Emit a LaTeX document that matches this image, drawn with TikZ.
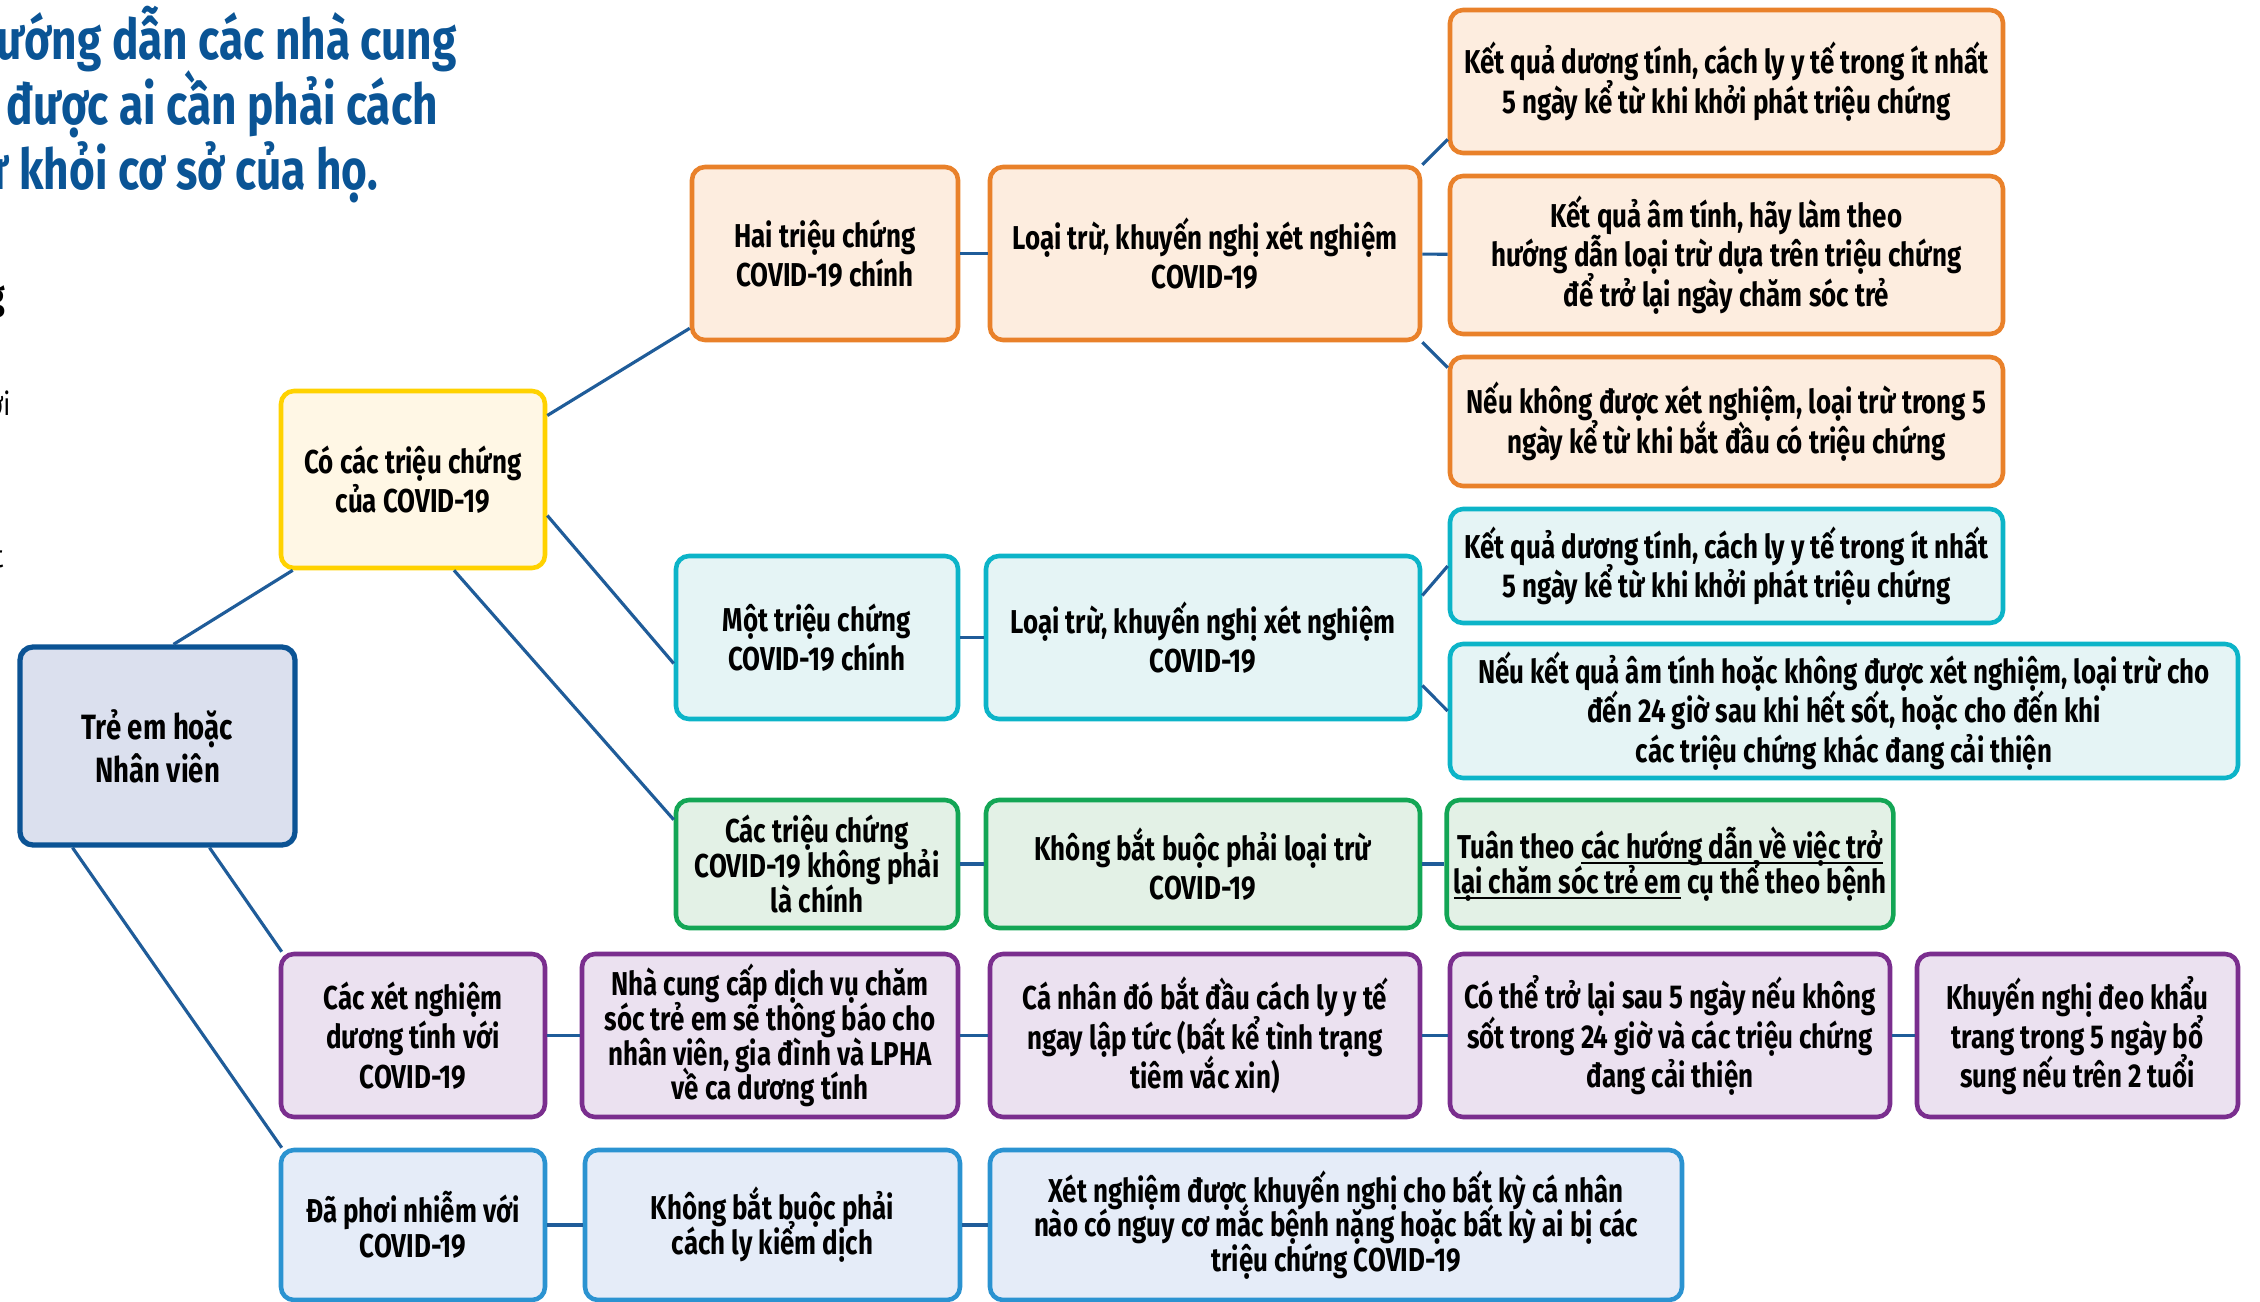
\documentclass[tikz,border=0pt]{standalone}
\usepackage{fontspec}
\newfontfamily\condfont{Fira Sans}[FakeStretch=0.785]
\usetikzlibrary{positioning}

\definecolor{linkblue}{HTML}{1F5C99}
\definecolor{titleblue}{HTML}{0A5495}
\definecolor{rootline}{HTML}{0B5394}\definecolor{rootfill}{HTML}{DBE0EE}
\definecolor{yelline}{HTML}{FFD200}\definecolor{yelfill}{HTML}{FFF7E5}
\definecolor{orline}{HTML}{E9812A}\definecolor{orfill}{HTML}{FDEDDF}
\definecolor{cyline}{HTML}{0CB4C8}\definecolor{cyfill}{HTML}{E5F4F5}
\definecolor{grline}{HTML}{13A655}\definecolor{grfill}{HTML}{E3F1E6}
\definecolor{puline}{HTML}{7A2E8E}\definecolor{pufill}{HTML}{EBE1F0}
\definecolor{blline}{HTML}{2B93D1}\definecolor{blfill}{HTML}{E5ECF8}

% underline close to the baseline
\newcommand{\ulink}[1]{\setbox0\hbox{#1}\leavevmode\rlap{\rule[-1.5pt]{\wd0}{0.55pt}}\box0\relax}
\newcommand{\boxfont}[2]{\condfont\bfseries\fontsize{#1}{#2}\selectfont\lineskiplimit=-20pt}

\begin{document}
\begin{tikzpicture}[
		link/.style={draw=linkblue, line width=0.9pt},
		box/.style={line width=1.3pt, rounded corners=1.3mm, align=center, inner sep=2pt,
			font=\boxfont{9.4}{11.2}},
		tight/.style={font=\boxfont{9.4}{9.9}},
		rootbox/.style={box, draw=rootline, fill=rootfill, line width=1.5pt, font=\boxfont{10}{12.3}},
		yelbox/.style={box, draw=yelline, fill=yelfill},
		orbox/.style={box, draw=orline, fill=orfill},
		cybox/.style={box, draw=cyline, fill=cyfill},
		grbox/.style={box, draw=grline, fill=grfill},
		pubox/.style={box, draw=puline, fill=pufill},
		blbox/.style={box, draw=blline, fill=blfill},
		headline/.style={anchor=base west, inner sep=0, text=titleblue, font=\boxfont{16}{18}},
		sz/.style 2 args={minimum width=#1cm, minimum height=#2cm}]
		
		\useasboundingbox (0,0) rectangle (22.6,-13.02);
		\clip (0,0) rectangle (22.6,-13.02);
		
		% heading, cut at the left edge
		\node[headline] (head1) at (-0.04,-0.6) {ướng dẫn các nhà cung};
		\node[headline] (head2) at (0.06,-1.25) {được ai cần phải cách};
		\node[headline] (head3) at (-0.2,-1.9) {ư khỏi cơ sở của họ.};
		
		\node[anchor=base east, inner sep=0, font=\condfont\bfseries\fontsize{11}{13}\selectfont] (frag1) at (0.06,-3.1) {g};
		\node[anchor=base east, inner sep=0, font=\condfont\fontsize{9}{11}\selectfont] (frag2) at (0.11,-4.15) {ơi};
		\node[anchor=base east, inner sep=0, font=\condfont\fontsize{9}{11}\selectfont] (frag3) at (0.04,-5.67) {t};
		
		\node[rootbox, sz={2.75}{1.98}] at (1.575,-7.46) (tre) {Trẻ em hoặc\\Nhân viên};
		\node[yelbox, sz={2.64}{1.77}] at (4.13,-4.795) (coca) {Có các triệu chứng\\của COVID-19};
		
		\node[orbox, sz={2.66}{1.73}] at (8.25,-2.535) (hai) {Hai triệu chứng\\COVID-19 chính};
		\node[orbox, sz={4.30}{1.73}] at (12.05,-2.535) (loaiA) {Loại trừ, khuyến nghị xét nghiệm\\COVID-19};
		\node[orbox, sz={5.53}{1.43}] at (17.265,-0.815) (duongA) {Kết quả dương tính, cách ly y tế trong ít nhất\\5 ngày kể từ khi khởi phát triệu chứng};
		\node[orbox, sz={5.53}{1.58}] at (17.265,-2.55) (amA) {Kết quả âm tính, hãy làm theo\\hướng dẫn loại trừ dựa trên triệu chứng\\để trở lại ngày chăm sóc trẻ};
		\node[orbox, sz={5.53}{1.29}] at (17.265,-4.215) (khongxnA) {Nếu không được xét nghiệm, loại trừ trong 5\\ngày kể từ khi bắt đầu có triệu chứng};
		
		\node[cybox, sz={2.82}{1.63}] at (8.17,-6.375) (mot) {Một triệu chứng\\COVID-19 chính};
		\node[cybox, sz={4.34}{1.63}] at (12.03,-6.375) (loaiB) {Loại trừ, khuyến nghị xét nghiệm\\COVID-19};
		\node[cybox, sz={5.53}{1.14}] at (17.265,-5.66) (duongB) {Kết quả dương tính, cách ly y tế trong ít nhất\\5 ngày kể từ khi khởi phát triệu chứng};
		\node[cybox, sz={7.88}{1.34}] at (18.44,-7.11) (amB) {Nếu kết quả âm tính hoặc không được xét nghiệm, loại trừ cho\\đến 24 giờ sau khi hết sốt, hoặc cho đến khi\\các triệu chứng khác đang cải thiện};
		
		\node[grbox, tight, sz={2.82}{1.28}] at (8.17,-8.64) (cac) {Các triệu chứng\\COVID-19 không phải\\là chính};
		\node[grbox, sz={4.34}{1.28}] at (12.03,-8.64) (khong) {Không bắt buộc phải loại trừ\\COVID-19};
		\node[grbox, tight, sz={4.40}{1.28}] at (16.70,-8.64) (tuan) {Tuân theo \ulink{các hướng dẫn về việc trở}\\\ulink{lại chăm sóc trẻ em} cụ thể theo bệnh};
		
		\node[pubox, sz={2.64}{1.63}] at (4.13,-10.355) (xn) {Các xét nghiệm\\dương tính với\\COVID-19};
		\node[pubox, tight, sz={3.76}{1.63}] at (7.70,-10.355) (nha) {Nhà cung cấp dịch vụ chăm\\sóc trẻ em sẽ thông báo cho\\nhân viên, gia đình và LPHA\\về ca dương tính};
		\node[pubox, sz={4.30}{1.63}] at (12.05,-10.355) (canhan) {Cá nhân đó bắt đầu cách ly y tế\\ngay lập tức (bất kể tình trạng\\tiêm vắc xin)};
		\node[pubox, sz={4.40}{1.63}] at (16.70,-10.355) (cothe) {Có thể trở lại sau 5 ngày nếu không\\sốt trong 24 giờ và các triệu chứng\\đang cải thiện};
		\node[pubox, sz={3.21}{1.63}] at (20.775,-10.355) (deo) {Khuyến nghị đeo khẩu\\trang trong 5 ngày bổ\\sung nếu trên 2 tuổi};
		
		\node[blbox, tight, sz={2.64}{1.50}] at (4.13,-12.25) (phoi) {Đã phơi nhiễm với\\COVID-19};
		\node[blbox, tight, sz={3.75}{1.50}] at (7.725,-12.25) (kbcl) {Không bắt buộc phải\\cách ly kiểm dịch};
		\node[blbox, tight, sz={6.92}{1.50}] at (13.36,-12.25) (xnkn) {Xét nghiệm được khuyến nghị cho bất kỳ cá nhân\\nào có nguy cơ mắc bệnh nặng hoặc bất kỳ ai bị các\\triệu chứng COVID-19};
		
		\draw[link] ([xshift=0.16cm]tre.north) -- ([xshift=0.14cm]coca.south west);
		\draw[link] ([xshift=0.52cm]tre.south) -- ([xshift=0.03cm]xn.north west);
		\draw[link] ([xshift=-0.85cm]tre.south) -- ([xshift=0.03cm]phoi.north west);
		
		\draw[link] ([yshift=0.64cm]coca.east) -- ([yshift=0.14cm]hai.south west);
		\draw[link] ([yshift=-0.36cm]coca.east) -- ([yshift=-0.26cm]mot.west);
		\draw[link] ([xshift=0.41cm]coca.south) -- ([yshift=-0.22cm]cac.north west);
		
		\draw[link] (hai) -- (loaiA);
		\draw[link] (loaiA.north east) -- ([yshift=0.16cm]duongA.south west);
		\draw[link] (loaiA) -- (amA);
		\draw[link] (loaiA.south east) -- ([yshift=-0.13cm]khongxnA.north west);
		
		\draw[link] (mot) -- (loaiB);
		\draw[link] ([yshift=0.42cm]loaiB.east) -- (duongB.west);
		\draw[link] ([yshift=-0.48cm]loaiB.east) -- (amB.west);
		
		\draw[link] (cac) -- (khong);
		\draw[link] (khong) -- (tuan);
		
		\draw[link] (xn) -- (nha);
		\draw[link] (nha) -- (canhan);
		\draw[link] (canhan) -- (cothe);
		\draw[link] (cothe) -- (deo);
		
		\draw[link] (phoi) -- (kbcl);
		\draw[link] (kbcl) -- (xnkn);
	\end{tikzpicture}
\end{document}
